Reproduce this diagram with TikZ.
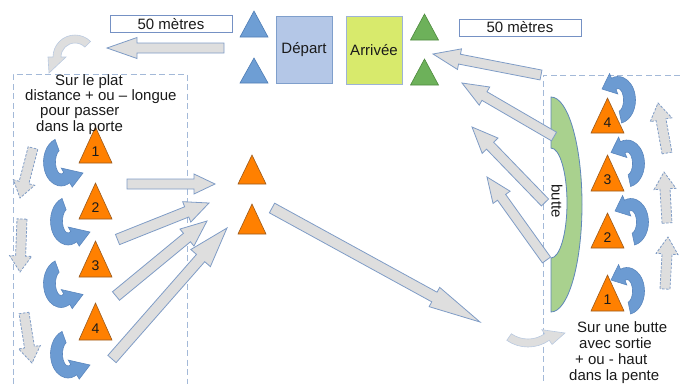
\documentclass[tikz,border=0pt]{standalone}
\usepackage{fontspec}
\setmainfont{Liberation Sans}
\usetikzlibrary{calc}
\definecolor{garrowc}{HTML}{DEDEDE}
\definecolor{gedge}{HTML}{7F9CC6}
\definecolor{barc}{HTML}{6C9BD2}
\definecolor{bedge}{HTML}{5A86BE}
\definecolor{orng}{HTML}{FF8000}
\definecolor{oedge}{HTML}{9A5A1E}
\definecolor{grn}{HTML}{6DB15A}
\definecolor{gtedge}{HTML}{4E8A3E}
\definecolor{blt}{HTML}{6E9ED4}
\definecolor{btedge}{HTML}{4F7DB5}
\definecolor{depf}{HTML}{B4C7E7}
\definecolor{depe}{HTML}{7F9FCC}
\definecolor{arrf}{HTML}{D8EA6C}
\definecolor{arre}{HTML}{9DB3D6}
\definecolor{butf}{HTML}{A9D18E}
\definecolor{bute}{HTML}{5F87B9}
\definecolor{dashc}{HTML}{A3B9D8}
\definecolor{boxe}{HTML}{7591C4}
\definecolor{txtc}{HTML}{1A1A1A}

% block arrow: style, start, tip, shaft half width, head half width, head length
\newcommand\barrow[6]{%
  \coordinate (bh) at ($(#3)!#6!(#2)$);
  \draw[#1] ($(#2)!#4!90:(#3)$) -- ($(bh)!#4!90:(#3)$) -- ($(bh)!#5!90:(#3)$) -- (#3)
    -- ($(bh)!#5!-90:(#3)$) -- ($(bh)!#4!-90:(#3)$) -- ($(#2)!#4!-90:(#3)$) -- cycle;}

% curved arrow: style, center, rx, ry, a1, a2, half band, head half width, tip (relative)
\newcommand\carrow[9]{%
  \pgfmathsetmacro\cxo{#3+#7}\pgfmathsetmacro\cyo{#4+#7}%
  \pgfmathsetmacro\cxi{#3-#7}\pgfmathsetmacro\cyi{#4-#7}%
  \pgfmathsetmacro\hxo{#3+#8}\pgfmathsetmacro\hyo{#4+#8}%
  \pgfmathsetmacro\hxi{max(#3-#8,0)}\pgfmathsetmacro\hyi{max(#4-#8,0)}%
  \draw[#1,shift={(#2)}] ({\cxo*cos(#5)},{\cyo*sin(#5)})
    arc[start angle=#5,end angle=#6,x radius=\cxo,y radius=\cyo]
    -- ({\hxo*cos(#6)},{\hyo*sin(#6)}) -- (#9) -- ({\hxi*cos(#6)},{\hyi*sin(#6)})
    -- ({\cxi*cos(#6)},{\cyi*sin(#6)})
    arc[start angle=#6,end angle=#5,x radius=\cxi,y radius=\cyi] -- cycle;}

% cone: style, cx, top, bottom, half width
\newcommand\cone[5]{\draw[#1] (#2,#3) -- ({#2+#5},#4) -- ({#2-#5},#4) -- cycle;}
% numbered cone: style, cx, top, bottom, half width, label, name
\newcommand\ncone[7]{\cone{#1}{#2}{#3}{#4}{#5}%
  \node[num] (#7) at (#2,{(#3+2*#4)/3+1}) {#6};}

\begin{document}
\begin{tikzpicture}[x=1pt,y=-1pt,
  garr/.style={fill=garrowc, draw=gedge, line width=0.8pt, line join=miter},
  dgarr/.style={garr, dash pattern=on 2.5pt off 1.5pt},
  cgarr/.style={fill=garrowc, draw=gedge!55, line width=0.6pt},
  barr/.style={fill=barc, draw=bedge, line width=0.6pt},
  dbox/.style={draw=dashc, line width=1pt, dash pattern=on 6pt off 3.5pt},
  otri/.style={fill=orng, draw=oedge, line width=0.6pt},
  btri/.style={fill=blt, draw=btedge, line width=0.6pt},
  gtri/.style={fill=grn, draw=gtedge, line width=0.6pt},
  num/.style={font=\fontsize{14}{14}\selectfont, text=txtc, inner sep=0pt},
  txt/.style={font=\fontsize{15}{15}\selectfont, text=txtc, inner sep=0pt, anchor=base west},
  mbox/.style={draw=boxe, fill=white, line width=1pt, minimum width=122pt, minimum height=17pt,
    inner sep=0pt, font=\fontsize{15}{15}\selectfont, text=txtc},
  ]
\useasboundingbox (0,0) rectangle (680,384);

% dashed zones
\draw[dbox] (13,384) -- (13,74) -- (187,74) -- (187,384);
\draw[dbox] (680,75) -- (543,75) -- (543,384);

% start / finish
\node[mbox] (m1) at (171,24) {50 mètres};
\node[mbox] (m2) at (520,27.5) {50 mètres};
\node[draw=depe, fill=depf, line width=1pt, minimum width=56pt, minimum height=67pt, inner sep=0pt,
  font=\fontsize{15}{15}\selectfont, text=txtc] (dep) at (304,49.5) {Départ};
\node[draw=arre, fill=arrf, line width=1pt, minimum width=56pt, minimum height=68pt, inner sep=0pt,
  font=\fontsize{15}{15}\selectfont, text=txtc] (arr) at (374,50) {Arrivée};
\cone{btri}{254}{11}{37}{14}
\cone{btri}{254}{58}{83}{14}
\cone{gtri}{424.5}{14}{40}{14}
\cone{gtri}{424.5}{59}{85}{14}

% butte
\draw[fill=butf, draw=bute, line width=0.8pt] (551,97)
  arc[start angle=-90,end angle=90,x radius=31,y radius=107.5] -- (551,258)
  arc[start angle=90,end angle=-90,x radius=16,y radius=55] -- cycle;
\node[font=\fontsize{15}{15}\selectfont, text=txtc, rotate=-90, inner sep=0pt] (blbl) at (557,201) {butte};

% arrow end points
\coordinate (tls) at (224,48);  \coordinate (tlt) at (107,48);
\coordinate (as) at (127,184);  \coordinate (at) at (215,184);
\coordinate (bs) at (117.5,239.5); \coordinate (bt) at (209,203);
\coordinate (cs) at (116,296);  \coordinate (ct) at (207,221);
\coordinate (ds) at (112,359);  \coordinate (dt) at (227,228);
\coordinate (es) at (272,208);  \coordinate (et) at (480,322);
\coordinate (u1s) at (541,75);  \coordinate (u1t) at (433,54);
\coordinate (u2s) at (554,136.5); \coordinate (u2t) at (462,83);
\coordinate (u3s) at (545,202.5); \coordinate (u3t) at (472,127);
\coordinate (u4s) at (546.5,260); \coordinate (u4t) at (487,177);
\coordinate (l1s) at (33,148);  \coordinate (l1t) at (20,198);
\coordinate (l2s) at (22,219);  \coordinate (l2t) at (20,272);
\coordinate (l3s) at (24,313);  \coordinate (l3t) at (32,363);
\coordinate (r1s) at (667,153); \coordinate (r1t) at (658,103);
\coordinate (r2s) at (667,223); \coordinate (r2t) at (664,172);
\coordinate (r3s) at (665,289); \coordinate (r3t) at (668,237);

% big grey arrows
\barrow{garr}{tls}{tlt}{5pt}{10.5pt}{30pt}
\barrow{garr}{as}{at}{5pt}{10pt}{21pt}
\barrow{garr}{bs}{bt}{5.5pt}{11pt}{24pt}
\barrow{garr}{cs}{ct}{5.5pt}{11pt}{26pt}
\barrow{garr}{ds}{dt}{5.5pt}{13pt}{40pt}
\barrow{garr}{es}{et}{5.5pt}{11pt}{52pt}
\barrow{garr}{u1s}{u1t}{5pt}{10.5pt}{27pt}
\barrow{garr}{u2s}{u2t}{5pt}{10.5pt}{26pt}
\barrow{garr}{u3s}{u3t}{5pt}{11pt}{26pt}
\barrow{garr}{u4s}{u4t}{5pt}{10.5pt}{25pt}

% small dashed arrows
\barrow{dgarr}{l1s}{l1t}{5pt}{11pt}{16pt}
\barrow{dgarr}{l2s}{l2t}{5pt}{11pt}{16pt}
\barrow{dgarr}{l3s}{l3t}{5pt}{11pt}{16pt}
\barrow{dgarr}{r1s}{r1t}{5pt}{11pt}{17pt}
\barrow{dgarr}{r2s}{r2t}{5pt}{11pt}{17pt}
\barrow{dgarr}{r3s}{r3t}{5pt}{11pt}{17pt}

% curved grey arrows
\carrow{cgarr}{75,57}{18}{18}{-45}{-180}{4}{9}{-26,16}
\carrow{cgarr}{528,310}{33}{33}{125}{55}{4}{9}{37,23}

% left cones and turning arrows
\ncone{otri}{95.5}{127}{163}{16.5}{1}{lc1}
\ncone{otri}{95.5}{183}{219}{16.5}{2}{lc2}
\ncone{otri}{95.5}{241}{277}{16.5}{3}{lc3}
\ncone{otri}{95.5}{303}{340}{16.5}{4}{lc4}
\carrow{barr}{61,162}{11.5}{18}{-110}{-300}{6}{11}{22,11}
\carrow{barr}{68,221}{11.5}{18}{-110}{-300}{6}{11}{22,11}
\carrow{barr}{61,283.5}{11.5}{18}{-110}{-300}{6}{11}{22,11}
\carrow{barr}{68,354}{11.5}{18}{-110}{-300}{6}{11}{22,11}

% centre cones
\cone{otri}{252}{155}{184}{14}
\cone{otri}{252}{204}{234}{14}

% right cones and turning arrows
\ncone{otri}{607.5}{98}{133}{16.5}{4}{rc4}
\ncone{otri}{607.5}{155}{191}{16.5}{3}{rc3}
\ncone{otri}{607.5}{213}{248}{16.5}{2}{rc2}
\ncone{otri}{607.5}{275}{311}{16.5}{1}{rc1}
\carrow{barr}{618,100}{11.5}{17.5}{78}{-112}{6}{11}{-16,-11}
\carrow{barr}{627,163.5}{11.5}{17.5}{78}{-112}{6}{11}{-16,-11}
\carrow{barr}{631,222}{11.5}{17.5}{78}{-112}{6}{11}{-16,-11}
\carrow{barr}{627,291}{11.5}{17.5}{78}{-112}{6}{11}{-16,-11}

% texts
\node[txt] (tl1) at (55,85) {Sur le plat};
\node[txt] (tl2) at (25,100) {distance + ou – longue};
\node[txt] (tl3) at (40,115) {pour passer};
\node[txt] (tl4) at (36,131) {dans la porte};
\node[txt] (tr1) at (577,332) {Sur une butte};
\node[txt] (tr2) at (579,348) {avec sortie};
\node[txt] (tr3) at (575,364) {+ ou - haut};
\node[txt] (tr4) at (569,380) {dans la pente};
\end{tikzpicture}
\end{document}
